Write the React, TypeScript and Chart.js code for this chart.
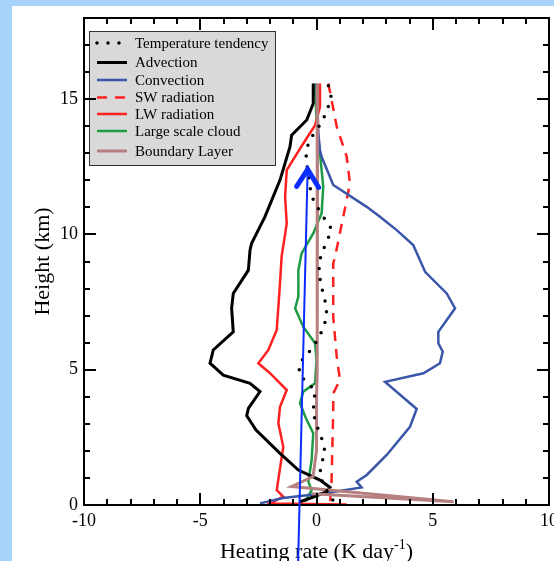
import { useEffect, useRef } from 'react';
import { Chart, registerables } from 'chart.js';
Chart.register(...registerables);

// ---- data (heating rate in K/day, height in km) ----
const seriesNames = ['Temperature tendency', 'Advection', 'Convection', 'SW radiation', 'LW radiation', 'Large scale cloud', 'Boundary Layer'];

const tendV = [0.51, 0.65, 0.44, 0.27, -0.21, -0.42, -0.45, -0.25, -0.11, 0.41, 0.65, 0.48, 0.27, 0.12, 0.11, 0.18, 0.29, 0.41, 0.44, 0.32, 0.11, -0.14, -0.42, -0.74, -0.74, -0.42, -0.06, -0.14, -0.06, 0.27, 0.37, 0.22, 0.15, 0.3, 0.65, 0.72];
const tendH = [15.5, 15.0, 14.6, 14.2, 13.6, 13.2, 12.8, 11.6, 11.2, 10.5, 10.2, 9.8, 9.4, 9.0, 8.6, 8.2, 7.8, 7.4, 7.0, 6.6, 6.2, 5.85, 5.55, 5.24, 4.83, 4.52, 4.25, 3.5, 3.1, 2.35, 1.93, 1.56, 1.19, 0.7, 0.28, 0.15];

const advV = [-0.14, -0.14, -0.42, -1.07, -1.14, -1.57, -2.22, -2.79, -2.86, -2.93, -3.58, -3.65, -3.58, -4.44, -4.58, -4.01, -2.86, -2.43, -2.93, -3.0, -2.6, -1.57, -0.78, 0.15, 0.58, 0.44, -0.28, -0.71];
const advH = [15.58, 14.84, 14.23, 13.67, 13.24, 12.01, 10.65, 9.67, 9.42, 8.68, 7.82, 7.27, 6.4, 5.73, 5.24, 4.8, 4.5, 4.19, 3.57, 3.3, 2.77, 1.91, 1.29, 0.92, 0.65, 0.49, 0.25, 0.12];

const convV = [0.0, 0.05, 0.08, 0.15, 0.22, 0.72, 2.16, 2.73, 3.45, 4.16, 4.67, 5.6, 5.96, 5.24, 5.24, 5.43, 5.31, 4.6, 2.95, 4.31, 4.02, 3.02, 2.16, 1.73, 1.94, 0.44, -1.44, -2.43];
const convH = [15.58, 14.5, 13.73, 13.1, 12.87, 11.83, 11.02, 10.65, 10.16, 9.61, 8.62, 7.82, 7.27, 6.4, 5.98, 5.67, 5.24, 4.87, 4.55, 3.55, 2.89, 1.85, 1.11, 0.86, 0.65, 0.44, 0.26, 0.06];

const swV = [0.51, 0.65, 0.87, 1.3, 1.44, 1.15, 0.8, 0.72, 0.72, 0.87, 1.01, 0.72, 0.72, 0.65, 0.58];
const swH = [15.58, 14.97, 13.98, 12.87, 11.89, 10.65, 9.18, 8.93, 6.96, 5.48, 4.62, 4.13, 3.51, 0.92, 0.07];

const lwV = [0.15, 0.15, -0.06, -0.57, -1.28, -1.35, -1.28, -1.5, -1.57, -1.71, -2.07, -2.5, -2.0, -1.28, -1.57, -1.64, -1.43, -1.71, -1.43, -2.0, 1.3];
const lwH = [15.58, 14.72, 14.04, 13.36, 12.38, 11.39, 10.41, 9.18, 8.19, 6.47, 5.73, 5.24, 4.87, 4.25, 3.63, 3.02, 2.15, 0.55, 0.31, 0.06, 0.02];

const lscV = [-0.06, 0.0, 0.15, 0.29, 0.22, -0.14, -0.64, -0.78, -0.78, -0.92, -0.57, -0.06, 0.0, -0.06, -0.57, -0.71, -0.45, -0.14, -0.21, -0.35, -0.21, -0.49];
const lscH = [15.58, 14.23, 13.0, 11.76, 10.78, 10.04, 9.3, 8.68, 7.7, 7.27, 6.59, 5.98, 5.36, 4.5, 4.19, 3.76, 3.2, 2.65, 1.66, 0.86, 0.55, 0.12];

const blV = [0.05, 0.03, 0.03, 0.0, 0.0, -0.15, -1.07, 5.9, -0.2];
const blH = [15.58, 10.0, 5.0, 3.88, 2.0, 1.05, 0.68, 0.12, 0.42];

const xMajorTicks = [-10, -5, 0, 5, 10];
const yMajorTicks = [0, 5, 10, 15];
const xRange = [-10, 10];
const yRange = [0, 18];

// annotation arrow: tail (below the axis) and head, in data units
const arrowTail = [-0.79, -2.07];
const arrowHead = [-0.38, 12.44];

const pts = (v: number[], h: number[]) => v.map((x, i) => ({ x, y: h[i] }));

const SERIF = '"Liberation Serif", "DejaVu Serif", serif';

const drawPlugin = {
  id: 'customDraw',
  afterDatasetsDraw(chart: any) {
    const ctx = chart.ctx as CanvasRenderingContext2D;
    const xs = chart.scales.x;
    const ys = chart.scales.y;
    const { left, right, top, bottom } = chart.chartArea;

    // ---- legend ----
    ctx.save();
    const lx = 89, ly = 31, lw = 186, lh = 134;
    ctx.fillStyle = '#d9d9d9';
    ctx.fillRect(lx, ly, lw, lh);
    ctx.strokeStyle = '#333';
    ctx.lineWidth = 1;
    ctx.strokeRect(lx + 0.5, ly + 0.5, lw, lh);
    const rowsY = [43, 62.5, 80, 97.5, 114, 131, 151];
    ctx.font = `15px ${SERIF}`;
    ctx.textBaseline = 'middle';
    ctx.textAlign = 'left';
    chart.data.datasets.forEach((ds: any, i: number) => {
      const y = rowsY[i];
      ctx.save();
      ctx.strokeStyle = ds.borderColor;
      ctx.lineWidth = ds.borderWidth;
      ctx.lineCap = ds.borderCapStyle || 'butt';
      ctx.setLineDash(ds.legendDash || []);
      ctx.beginPath();
      ctx.moveTo(97, y);
      ctx.lineTo(127, y);
      ctx.stroke();
      ctx.restore();
      ctx.fillStyle = '#000';
      ctx.fillText(ds.label, 135, y + 1);
    });
    ctx.restore();

    // ---- frame & ticks ----
    ctx.save();
    ctx.strokeStyle = '#000';
    ctx.lineWidth = 2;
    ctx.beginPath();
    for (let v = xRange[0]; v <= xRange[1]; v++) {
      const px = Math.round(xs.getPixelForValue(v));
      const len = xMajorTicks.includes(v) ? 12 : 6;
      ctx.moveTo(px, bottom); ctx.lineTo(px, bottom - len);
      ctx.moveTo(px, top); ctx.lineTo(px, top + len);
    }
    for (let v = yRange[0]; v <= yRange[1]; v++) {
      const py = Math.round(ys.getPixelForValue(v));
      const len = yMajorTicks.includes(v) ? 12 : 6;
      ctx.moveTo(left, py); ctx.lineTo(left + len, py);
      ctx.moveTo(right, py); ctx.lineTo(right - len, py);
    }
    ctx.stroke();
    ctx.strokeRect(left, top, right - left, bottom - top);

    // tick labels
    ctx.fillStyle = '#000';
    ctx.font = `18px ${SERIF}`;
    ctx.textAlign = 'center';
    ctx.textBaseline = 'top';
    xMajorTicks.forEach(v => ctx.fillText(String(v), xs.getPixelForValue(v), bottom + 7));
    ctx.textAlign = 'right';
    ctx.textBaseline = 'middle';
    yMajorTicks.forEach(v => ctx.fillText(String(v), left - 6, ys.getPixelForValue(v)));

    // axis titles
    ctx.font = `22px ${SERIF}`;
    const t1 = 'Heating rate (K day';
    const sup = '-1';
    const t2 = ')';
    const w1 = ctx.measureText(t1).width;
    const w3 = ctx.measureText(t2).width;
    ctx.font = `14px ${SERIF}`;
    const w2 = ctx.measureText(sup).width;
    const total = w1 + w2 + w3;
    const cx = (left + right) / 2;
    let sx = cx - total / 2;
    const base = 558;
    ctx.textAlign = 'left';
    ctx.textBaseline = 'alphabetic';
    ctx.font = `22px ${SERIF}`;
    ctx.fillText(t1, sx, base);
    sx += w1;
    ctx.font = `14px ${SERIF}`;
    ctx.fillText(sup, sx, base - 9);
    sx += w2;
    ctx.font = `22px ${SERIF}`;
    ctx.fillText(t2, sx, base);

    ctx.save();
    ctx.translate(43, (top + bottom) / 2);
    ctx.rotate(-Math.PI / 2);
    ctx.textAlign = 'center';
    ctx.textBaseline = 'middle';
    ctx.fillText('Height (km)', 0, 0);
    ctx.restore();
    ctx.restore();

    // ---- annotation arrow ----
    ctx.save();
    const tx = xs.getPixelForValue(arrowTail[0]);
    const ty = ys.getPixelForValue(arrowTail[1]);
    const hx = xs.getPixelForValue(arrowHead[0]);
    const hy = ys.getPixelForValue(arrowHead[1]);
    ctx.strokeStyle = '#0a2cff';
    ctx.lineWidth = 2;
    ctx.beginPath();
    ctx.moveTo(tx, ty);
    ctx.lineTo(hx, hy);
    ctx.stroke();
    ctx.lineWidth = 5;
    ctx.lineCap = 'round';
    ctx.lineJoin = 'miter';
    ctx.beginPath();
    ctx.moveTo(hx - 11, hy + 18);
    ctx.lineTo(hx, hy + 1);
    ctx.lineTo(hx + 11, hy + 19);
    ctx.stroke();
    ctx.restore();
  },
};

export default function App() {
  const ref = useRef<HTMLCanvasElement | null>(null);
  useEffect(() => {
    if (!ref.current) return;
    const mk = (i: number, v: number[], h: number[], color: string, width: number, extra: any = {}) => ({
      label: seriesNames[i],
      data: pts(v, h),
      borderColor: color,
      borderWidth: width,
      pointRadius: 0,
      fill: false,
      tension: 0,
      ...extra,
    });
    const chart = new Chart(ref.current, {
      type: 'line',
      data: {
        datasets: [
          mk(0, tendV, tendH, '#000', 3.5, { borderDash: [0, 11], borderCapStyle: 'round', legendDash: [0, 11], order: 0 }),
          mk(1, advV, advH, '#000', 3, { order: 2 }),
          mk(2, convV, convH, '#3a56a8', 2.5, { order: 3 }),
          mk(3, swV, swH, '#ff2020', 2.5, { borderDash: [10, 8], legendDash: [10, 8], order: 4 }),
          mk(4, lwV, lwH, '#ff2020', 2.5, { order: 5 }),
          mk(5, lscV, lscH, '#1f9a45', 2.5, { order: 6 }),
          mk(6, blV, blH, '#b5807f', 3, { order: 1 }),
        ] as any,
      },
      options: {
        animation: false,
        responsive: false,
        maintainAspectRatio: false,
        parsing: true,
        layout: { padding: { left: 84, top: 18, right: 5, bottom: 56 } },
        plugins: { legend: { display: false }, tooltip: { enabled: false }, title: { display: false } },
        scales: {
          x: { type: 'linear', min: xRange[0], max: xRange[1], display: false },
          y: { type: 'linear', min: yRange[0], max: yRange[1], display: false },
        },
      },
      plugins: [drawPlugin],
    });
    return () => chart.destroy();
  }, []);

  return (
    <div style={{ position: 'fixed', left: 0, top: 0, width: 554, height: 561, background: '#a8d3fb', overflow: 'hidden' }}>
      <div style={{ position: 'absolute', left: 12, top: 6, right: 0, bottom: 0, background: '#fff' }} />
      <canvas ref={ref} width={554} height={561} style={{ position: 'absolute', left: 0, top: 0, width: 554, height: 561 }} />
    </div>
  );
}
